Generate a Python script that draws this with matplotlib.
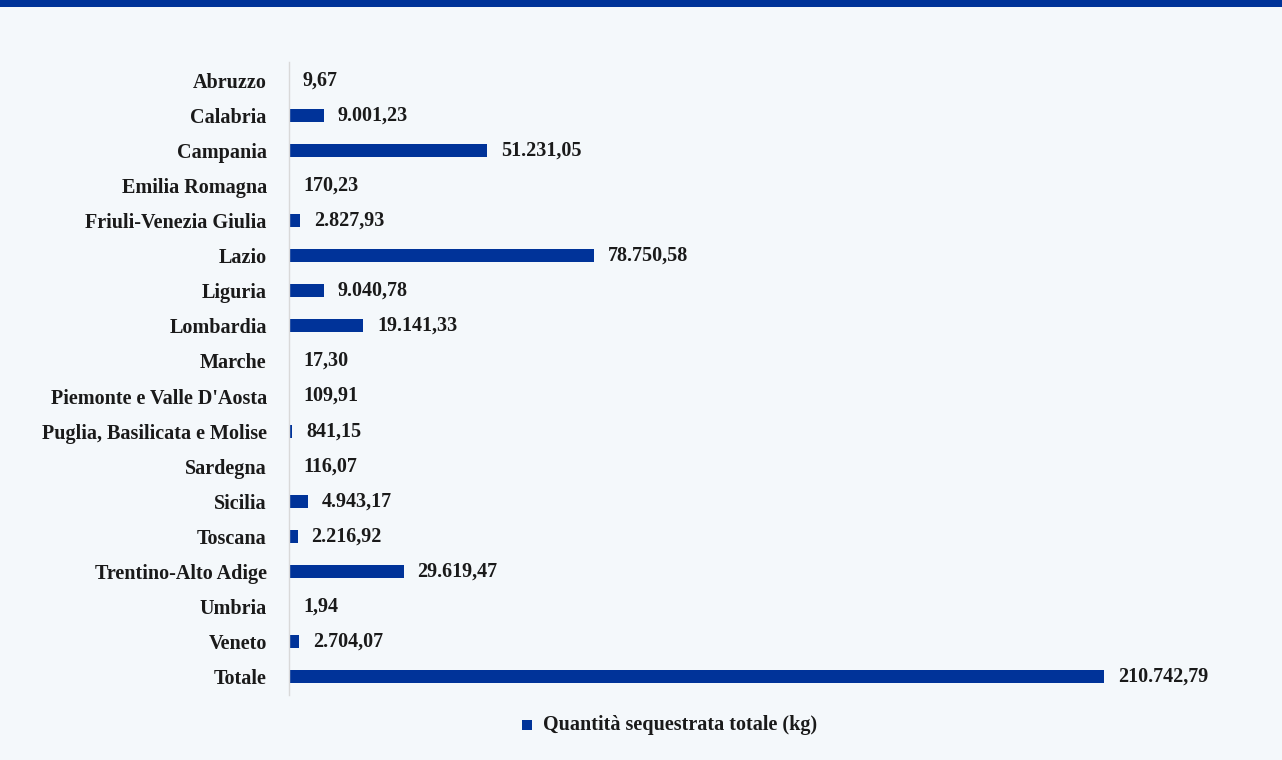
import matplotlib.pyplot as plt
from matplotlib.patches import Rectangle

regioni = ["Abruzzo", "Calabria", "Campania", "Emilia Romagna",
           "Friuli-Venezia Giulia", "Lazio", "Liguria", "Lombardia", "Marche",
           "Piemonte e Valle D'Aosta", "Puglia, Basilicata e Molise",
           "Sardegna", "Sicilia", "Toscana", "Trentino-Alto Adige", "Umbria",
           "Veneto", "Totale"]
quantita = [9.67, 9001.23, 51231.05, 170.23, 2827.93, 78750.58, 9040.78,
            19141.33, 17.30, 109.91, 841.15, 116.07, 4943.17, 2216.92,
            29619.47, 1.94, 2704.07, 210742.79]

BLU = "#003399"
SFONDO = "#f4f8fb"
FS = 14.5


def formato_it(v):
    s = f"{v:,.2f}"
    return s.replace(",", "X").replace(".", ",").replace("X", ".")


plt.rcParams["font.family"] = ["Liberation Serif", "DejaVu Serif"]
plt.rcParams["font.weight"] = "bold"

fig = plt.figure(figsize=(12.82, 7.6), dpi=100, facecolor=SFONDO)
W, H = 1282, 760

# banda blu in alto
fig.patches.append(Rectangle((0, 1 - 7 / H), 1, 7 / H, transform=fig.transFigure,
                             facecolor=BLU, edgecolor="none"))

x0, x_tot = 289, 1104
x1 = 1250
ax = fig.add_axes([x0 / W, 1 - 695 / H, (x1 - x0) / W, (695 - 62) / H])
ax.set_facecolor(SFONDO)

y = range(len(regioni))
ax.barh(y, quantita, height=0.37, color=BLU)
ax.set_xlim(0, quantita[-1] * (x1 - x0) / (x_tot - x0))
ax.set_ylim(len(regioni) - 0.48, -0.52)

for i, v in enumerate(quantita):
    ax.annotate(formato_it(v), (v, i), xytext=(10, 0), textcoords="offset points",
                va="center", ha="left", fontsize=FS, fontweight="bold",
                color="#1a1a1a")

ax.set_yticks(list(y))
ax.set_yticklabels(regioni, fontsize=FS, fontweight="bold", color="#1a1a1a")
ax.tick_params(axis="y", length=0, pad=16)
ax.set_xticks([])
for lato in ["top", "right", "bottom"]:
    ax.spines[lato].set_visible(False)
ax.spines["left"].set_color("#d9d9d9")
ax.spines["left"].set_linewidth(1)

# legenda
fig.patches.append(Rectangle((522 / W, 1 - 730 / H), 10 / W, 10 / H,
                             transform=fig.transFigure, facecolor=BLU,
                             edgecolor="none"))
fig.text(543 / W, 1 - 725 / H, "Quantità sequestrata totale (kg)",
         fontsize=FS, fontweight="bold", color="#1a1a1a", va="center",
         ha="left")

fig.savefig("out.png", dpi=100, facecolor=SFONDO)
